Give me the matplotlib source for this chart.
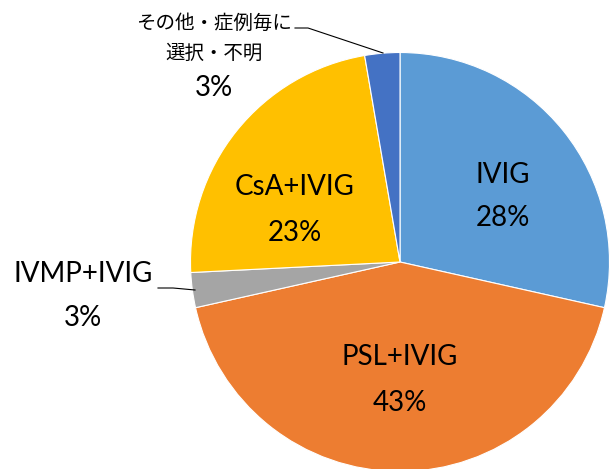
import matplotlib
matplotlib.use("Agg")
import matplotlib.pyplot as plt

labels = ["IVIG", "PSL+IVIG", "IVMP+IVIG", "CsA+IVIG", "その他・症例毎に\n選択・不明"]
values = [28.5, 43.0, 2.7, 23.1, 2.7]          # slice sizes as drawn in the picture
pct_labels = ["28%", "43%", "3%", "23%", "3%"]   # data label texts as printed
colors = ["#5B9BD5", "#ED7D31", "#A5A5A5", "#FFC000", "#4472C4"]

W, H = 611, 469
fig = plt.figure(figsize=(W / 100, H / 100), dpi=100)
ax = fig.add_axes([0, 0, 1, 1])

cx, cy, r = 400, 262, 209.5
# y axis is flipped below, so counterclock=True appears clockwise on screen
ax.pie(values, colors=colors, startangle=-90, counterclock=True,
       center=(cx, cy), radius=r, frame=True,
       wedgeprops=dict(edgecolor="white", linewidth=0.8))
ax.set_xlim(0, W)
ax.set_ylim(H, 0)
ax.axis("off")

lat = ["Lato", "Noto Sans CJK JP"]
jp = ["Noto Sans CJK JP", "DejaVu Sans"]

# label positions (name line, pct line) in pixels
name_pos = [(503, 175), (400, 357), (83, 274), (295, 187), (214, 38)]
pct_pos = [(503, 218), (400, 403), (83, 318), (295, 233), (214, 88)]

for i, lab in enumerate(labels):
    if i == 4:
        ax.text(*name_pos[i], lab, ha="center", va="center", fontsize=14,
                family=jp, linespacing=1.55)
    else:
        ax.text(*name_pos[i], lab, ha="center", va="center", fontsize=20, family=lat)
    ax.text(*pct_pos[i], pct_labels[i], ha="center", va="center", fontsize=20, family=lat)

# leader lines
ax.plot([158, 173, 195], [288, 288, 290], color="black", lw=0.8)
ax.plot([295, 308, 383], [28, 28, 53], color="black", lw=0.8)

fig.savefig("out.png", dpi=100)
